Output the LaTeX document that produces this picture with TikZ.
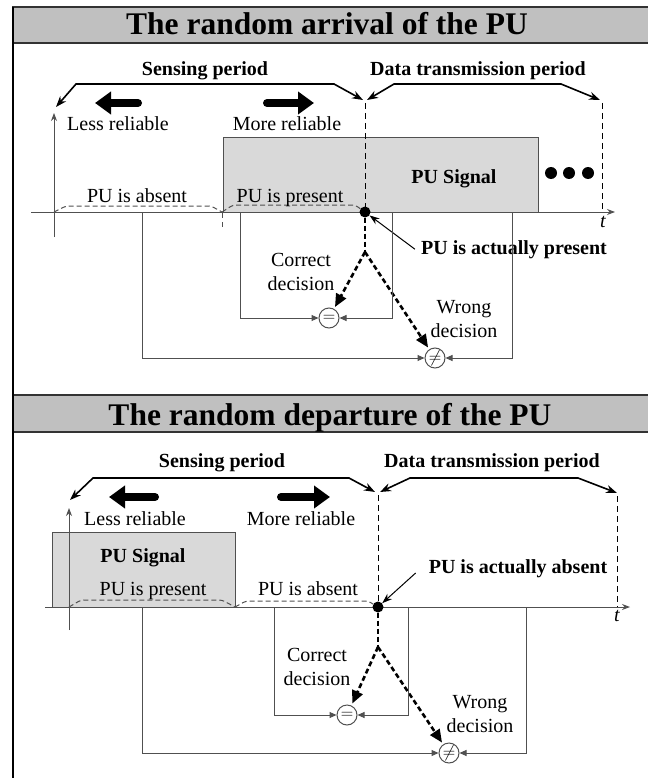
\documentclass[tikz,border=0pt]{standalone}
\usepackage{fontspec}
\setmainfont{Liberation Serif}
\usetikzlibrary{arrows.meta}
\definecolor{barGray}{HTML}{C0C0C0}
\definecolor{sigGray}{HTML}{D9D9D9}
\definecolor{lineGray}{HTML}{505050}
\tikzset{
  txt/.style={inner sep=0pt, anchor=base, font=\fontsize{20}{23.5}\selectfont},
  btxt/.style={txt, font=\fontsize{20}{23.5}\selectfont\bfseries},
  ttl/.style={inner sep=0pt, anchor=base, font=\fontsize{31.5}{36}\selectfont\bfseries},
  period/.style={line width=1.6pt, {Stealth[length=11pt,width=8pt]}-{Stealth[length=11pt,width=8pt]}},
  bigarrow/.style={line width=8pt, line cap=round, -{Triangle[length=16pt,width=22pt]}},
  axis/.style={lineGray, line width=1pt, -{Stealth[length=8pt,width=6pt]}},
  vdash/.style={line width=0.9pt, dash pattern=on 6pt off 4pt},
  stdash/.style={lineGray, line width=1pt, dash pattern=on 5pt off 3pt, rounded corners=3pt},
  evdot/.style={circle, fill=black, inner sep=0pt, minimum size=11pt},
  decis/.style={line width=2.6pt, dash pattern=on 5pt off 3pt},
  decarrow/.style={decis, -{Triangle[length=13pt,width=11pt]}, shorten >=2pt},
  cmp/.style={circle, draw=lineGray, line width=1pt, fill=white, inner sep=0pt, minimum size=20pt, font=\fontsize{18}{18}\selectfont},
  brk/.style={lineGray, line width=1pt, -{Triangle[length=7pt,width=6pt]}},
  pointer/.style={line width=1pt, -{Stealth[length=10pt,width=7pt]}},
  ellip/.style={circle, fill=black, inner sep=0pt, minimum size=12pt},
  sig/.style={fill=sigGray, draw=lineGray, line width=1pt},
  bar/.style={fill=barGray, draw=black!80, line width=1.5pt},
}
\begin{document}
\begin{tikzpicture}[x=1pt, y=-1pt]
\useasboundingbox (0,0) rectangle (647,778);
% frame and title bars
\path[bar] (13,7) rectangle (660,43);
\path[bar] (13,395) rectangle (660,432);
\draw[line width=2pt] (13,790) -- (13,7);
\node[ttl] (ttlA) at (327,35) {The random arrival of the PU};
\node[ttl] (ttlD) at (330,425) {The random departure of the PU};

\begin{scope}
    % arrival
    \node[btxt] (sensA) at (205,76) {Sensing period};
    \node[btxt] (dataA) at (478,76) {Data transmission period};
    \draw[period] (56,107) -- (76,84) -- (334,84) -- (363,100);
    \draw[period] (367,100) -- (394,84) -- (561,84) -- (600,100);
    \draw[bigarrow] (138,103) -- (95,103);
    \draw[bigarrow] (267,103) -- (314,103);
    \node[txt] (lessA) at (118,131) {Less reliable};
    \node[txt] (moreA) at (287,131) {More reliable};
    \path[sig] (223,138) rectangle (538,212);
    \node[btxt] (sigA) at (454,183) {PU Signal};
    \foreach \x in {551,569,588}
        \node[ellip] at (\x,173) {};
    \draw[vdash] (365,103) -- (365,212);
    \draw[vdash] (602,103) -- (602,212);
    \draw[axis] (31,212) -- (615,212);
    \node[txt, font=\fontsize{20}{20}\selectfont\itshape] (tA) at (603,227) {t};
    \draw[axis] (54,237) -- (54,113);
    \draw[vdash, lineGray, line width=0.8pt] (222,212) -- (222,227);
    \node[evdot] (evA) at (365,212) {};
    \draw[stdash] (54,212) -- (66,206) -- (211,206) -- (222,212);
    \draw[stdash] (222,212) -- (233,205) -- (355,205) -- (evA);
    \node[txt] (absA) at (137,202) {PU is absent};
    \node[txt] (preA) at (290,202) {PU is present};
    \node[btxt] (actA) at (514,254) {PU is actually present};
    \draw[pointer] ([xshift=-6pt]actA.west) -- (evA);
    \coordinate (forkA) at (365,252);
    \node[cmp] (eqA) at (329,318) {$=$};
    \node[cmp] (neA) at (435,358) {$\neq$};
    \draw[decis] (evA) -- (forkA);
    \draw[decarrow] (forkA) -- (eqA);
    \draw[decarrow] (forkA) -- (neA);
    \coordinate (inLA) at (240,212);
    \coordinate (inRA) at (392,212);
    \coordinate (outLA) at (142,212);
    \coordinate (outRA) at (512,212);
    \draw[brk] (inLA) |- (eqA);
    \draw[brk] (inRA) |- (eqA);
    \draw[brk] (outLA) |- (neA);
    \draw[brk] (outRA) |- (neA);
    \node[txt, align=center] (corA) at (301,290) {Correct\\decision};
    \node[txt, align=center] (wroA) at (464,337) {Wrong\\decision};
\end{scope}

\begin{scope}
    % departure
    \node[btxt] (sensD) at (222,467) {Sensing period};
    \node[btxt] (dataD) at (492,467) {Data transmission period};
    \draw[period] (70,500) -- (93,478) -- (349,478) -- (375,492);
    \draw[period] (380,492) -- (410,478) -- (578,478) -- (617,493);
    \draw[bigarrow] (155,497) -- (109,497);
    \draw[bigarrow] (281,497) -- (330,497);
    \node[txt] (lessD) at (135,525) {Less reliable};
    \node[txt] (moreD) at (301,525) {More reliable};
    \path[sig] (52,532) rectangle (235,607);
    \node[btxt] (sigD) at (143,562) {PU Signal};
    \draw[vdash] (378,495) -- (378,607);
    \draw[vdash] (617,496) -- (617,607);
    \draw[axis] (45,607) -- (630,607);
    \node[txt, font=\fontsize{20}{20}\selectfont\itshape] (tD) at (617,621) {t};
    \draw[axis] (69,630) -- (69,508);
    \node[evdot] (evD) at (378,607) {};
    \draw[stdash] (69,607) -- (81,600) -- (222,600) -- (235,607);
    \draw[stdash] (235,607) -- (246,601) -- (368,601) -- (evD);
    \node[txt] (preD) at (153,595) {PU is present};
    \node[txt] (absD) at (308,595) {PU is absent};
    \node[btxt] (actD) at (518,573) {PU is actually absent};
    \draw[pointer] ([xshift=-13pt]actD.base west) -- (evD);
    \coordinate (forkD) at (378,647);
    \node[cmp] (eqD) at (347,715) {$=$};
    \node[cmp] (neD) at (449,753) {$\neq$};
    \draw[decis] (evD) -- (forkD);
    \draw[decarrow] (forkD) -- (eqD);
    \draw[decarrow] (forkD) -- (neD);
    \coordinate (inLD) at (274,607);
    \coordinate (inRD) at (408,607);
    \coordinate (outLD) at (142,607);
    \coordinate (outRD) at (526,607);
    \draw[brk] (inLD) |- (eqD);
    \draw[brk] (inRD) |- (eqD);
    \draw[brk] (outLD) |- (neD);
    \draw[brk] (outRD) |- (neD);
    \node[txt, align=center] (corD) at (317,685) {Correct\\decision};
    \node[txt, align=center] (wroD) at (480,732) {Wrong\\decision};
\end{scope}
\end{tikzpicture}
\end{document}
